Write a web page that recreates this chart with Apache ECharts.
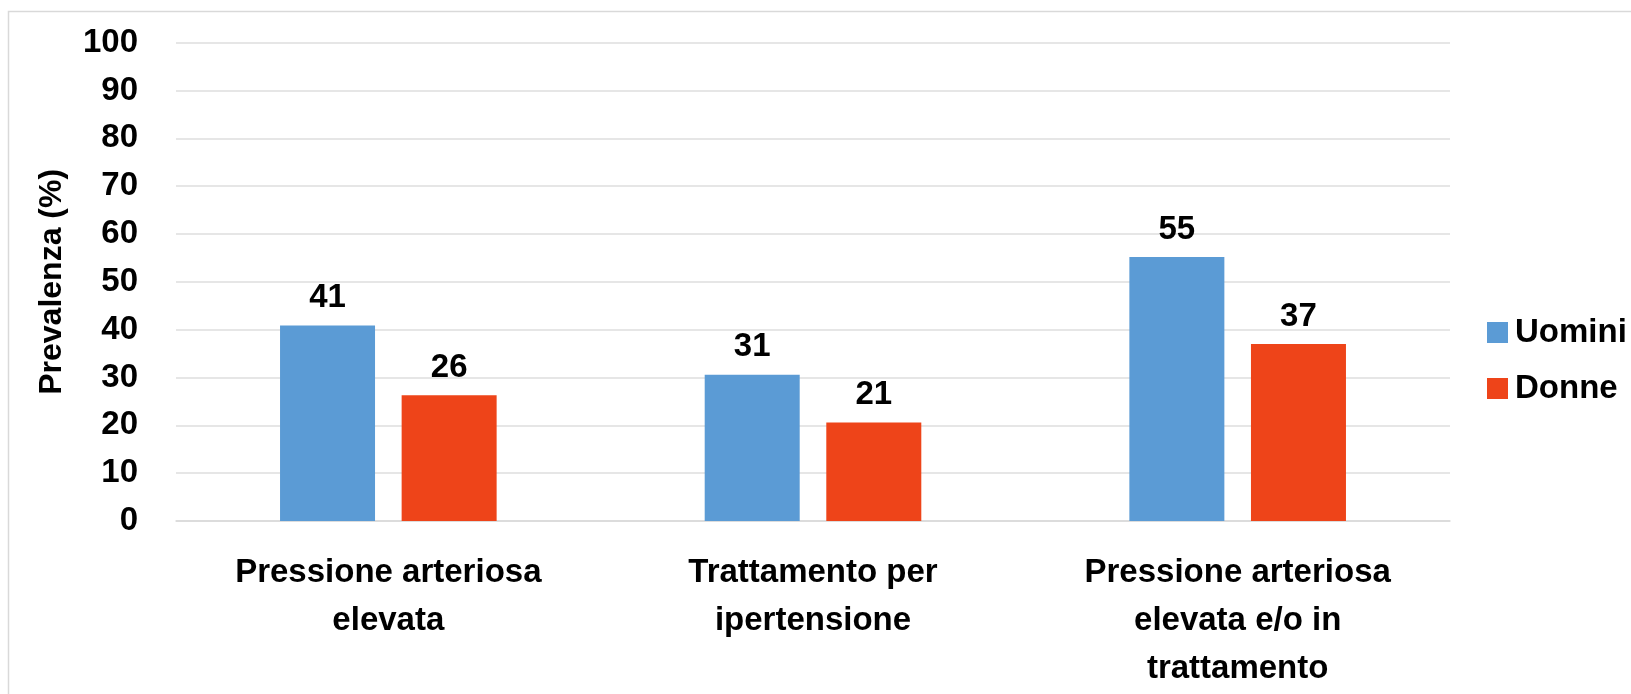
<!DOCTYPE html>
<html>
<head>
<meta charset="utf-8">
<script src="https://cdn.jsdelivr.net/npm/echarts@6/dist/echarts.min.js"></script>
<style>
html,body{margin:0;padding:0;background:#fff;}
#chart{width:1631px;height:694px;}
</style>
</head>
<body>
<div id="chart"></div>
<script>
const categories = ['Pressione arteriosa\nelevata', 'Trattamento per\nipertensione', 'Pressione arteriosa\nelevata e/o in\ntrattamento'];
const seriesNames = ['Uomini', 'Donne'];
const uomini = [40.9, 30.6, 55.2];
const donne = [26.3, 20.6, 37.0];
const yTicks = [0, 10, 20, 30, 40, 50, 60, 70, 80, 90, 100];

const FONT = '"Liberation Sans", Arial, sans-serif';
const chart = echarts.init(document.getElementById('chart'));
const labelStyle = {
  show: true, position: 'top', distance: 11,
  fontFamily: FONT, fontWeight: 'bold', fontSize: 33, color: '#000',
  formatter: p => Math.round(p.value)
};
chart.setOption({
  animation: false,
  backgroundColor: '#fff',
  graphic: [{
    type: 'rect', silent: true,
    shape: { x: 8.5, y: 11.5, width: 1800, height: 900 },
    style: { fill: 'none', stroke: '#D9D9D9', lineWidth: 1.5 }
  }],
  grid: { left: 176, right: 181, top: 42.7, bottom: 173 },
  legend: {
    orient: 'vertical', left: 1482, top: 311,
    itemWidth: 21, itemHeight: 21, itemGap: 23, icon: 'rect',
    textStyle: { fontFamily: FONT, fontWeight: 'bold', fontSize: 33, color: '#000', lineHeight: 33, padding: [0, 0, 0, 2] },
    data: seriesNames
  },
  xAxis: {
    type: 'category', data: categories,
    axisLine: { show: true, lineStyle: { color: '#D9D9D9', width: 1.5 } },
    axisTick: { show: false },
    axisLabel: { interval: 0, margin: 28, fontFamily: FONT, fontWeight: 'bold', fontSize: 33, lineHeight: 48, color: '#000' }
  },
  yAxis: {
    type: 'value', min: 0, max: 100, interval: 10,
    name: 'Prevalenza (%)', nameLocation: 'middle', nameGap: 108, nameRotate: 90,
    nameTextStyle: { fontFamily: FONT, fontWeight: 'bold', fontSize: 32, color: '#000' },
    axisLine: { show: false }, axisTick: { show: false },
    axisLabel: { margin: 38, fontFamily: FONT, fontWeight: 'bold', fontSize: 33, color: '#000',
      formatter: v => yTicks.includes(v) ? String(v) : '' },
    splitLine: { lineStyle: { color: '#DEDEDE', width: 1.5 } }
  },
  series: [
    { name: seriesNames[0], type: 'bar', data: uomini, barWidth: 95, barGap: '28%',
      itemStyle: { color: '#5B9BD5' }, label: labelStyle },
    { name: seriesNames[1], type: 'bar', data: donne, barWidth: 95,
      itemStyle: { color: '#EE4419' }, label: labelStyle }
  ]
});
</script>
</body>
</html>
